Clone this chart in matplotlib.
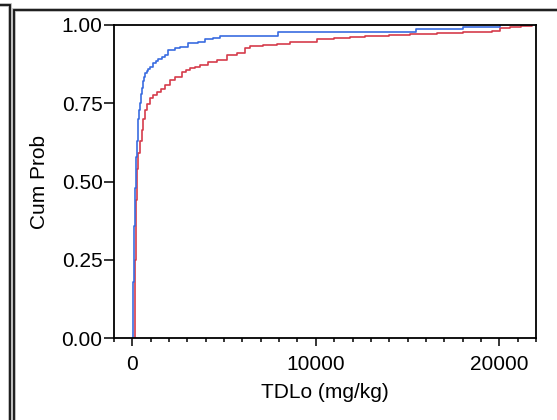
import matplotlib
matplotlib.use("Agg")
import matplotlib.pyplot as plt
from matplotlib.lines import Line2D
from matplotlib.ticker import MultipleLocator, FixedLocator

plt.rcParams['font.family'] = ['Liberation Sans', 'DejaVu Sans']

# Step points of the empirical CDFs (value, cumulative probability after the step)
blue_x = [20, 40, 60, 80, 95, 120, 150, 185, 220, 255, 290, 330, 380, 420, 480, 540,
          600, 650, 690, 780, 880, 970, 1150, 1300, 1420, 1600, 1780, 1960, 2300,
          2600, 3050, 3600, 3960, 4400, 4780, 7950, 15460, 18040, 20040]
blue_p = [0.0, 0.08, 0.18, 0.27, 0.36, 0.42, 0.48, 0.53, 0.58, 0.63, 0.67, 0.70, 0.73,
          0.75, 0.78, 0.80, 0.82, 0.835, 0.846, 0.852, 0.860, 0.867, 0.880, 0.886,
          0.891, 0.898, 0.904, 0.920, 0.925, 0.931, 0.942, 0.947, 0.954, 0.960, 0.966,
          0.979, 0.987, 0.994, 1.0]

red_x = [150, 150, 170, 185, 210, 240, 280, 330, 400, 510, 600, 690, 800, 970, 1150,
         1330, 1550, 1780, 2050, 2330, 2690, 2900, 3140, 3400, 3690, 4140, 4600, 5140,
         5690, 6140, 6410, 7100, 7870, 8590, 10050, 11000, 11860, 12680, 14000, 15130,
         16590, 18000, 19590, 20040, 20580, 21200, 21780]
red_p = [0.0, 0.10, 0.25, 0.38, 0.44, 0.48, 0.54, 0.59, 0.63, 0.665, 0.70, 0.729, 0.748,
         0.766, 0.777, 0.787, 0.797, 0.808, 0.824, 0.835, 0.851, 0.856, 0.862, 0.867,
         0.872, 0.883, 0.888, 0.904, 0.912, 0.926, 0.934, 0.936, 0.939, 0.947, 0.954,
         0.958, 0.962, 0.965, 0.968, 0.971, 0.975, 0.978, 0.982, 0.989, 0.993, 0.997, 1.0]

y_ticks = [0.0, 0.25, 0.5, 0.75, 1.0]
x_ticks = [0, 10000, 20000]

W, H = 557, 420
fig = plt.figure(figsize=(W / 100, H / 100), dpi=100)

# outer frame lines (figure pixel coords)
def fl(xs, ys, **kw):
    fig.add_artist(Line2D([x / W for x in xs], [1 - y / H for y in ys],
                          transform=fig.transFigure, **kw))

for xs, ys in [([0, 10, 10], [5, 5, 420]), ([14, 14, 557], [420, 10, 10])]:
    fl(xs, ys, color='#b0b0b0', lw=2.6, solid_joinstyle='miter')
    fl(xs, ys, color='#111111', lw=1.3, solid_joinstyle='miter')

L, R, T, B = 114, 536, 25, 338.3
ax = fig.add_axes([L / W, 1 - B / H, (R - L) / W, (B - T) / H])

ax.step(red_x, red_p, where='post', color='#d63c4c', lw=1.2)
ax.step(blue_x, blue_p, where='post', color='#3a6ce0', lw=1.2)

ax.set_xlim(-1000, 22000)
ax.set_ylim(0, 1)
ax.xaxis.set_major_locator(FixedLocator(x_ticks))
ax.xaxis.set_minor_locator(MultipleLocator(1000))
ax.yaxis.set_major_locator(FixedLocator(y_ticks))
ax.set_yticklabels([f"{v:.2f}" for v in y_ticks])
ax.set_xticklabels([str(v) for v in x_ticks])

for s in ax.spines.values():
    s.set_linewidth(1.3)
    s.set_color('black')
ax.tick_params(axis='y', which='major', length=7.2, width=1.1, labelsize=15, pad=1)
ax.tick_params(axis='x', which='major', length=5.8, width=1.1, labelsize=15, pad=6)
ax.tick_params(axis='x', which='minor', length=3, width=1.1)

ax.set_xlabel('TDLo (mg/kg)', fontsize=15, labelpad=7)
ax.set_ylabel('Cum Prob', fontsize=15, labelpad=9)

fig.savefig('out.png', dpi=100)
